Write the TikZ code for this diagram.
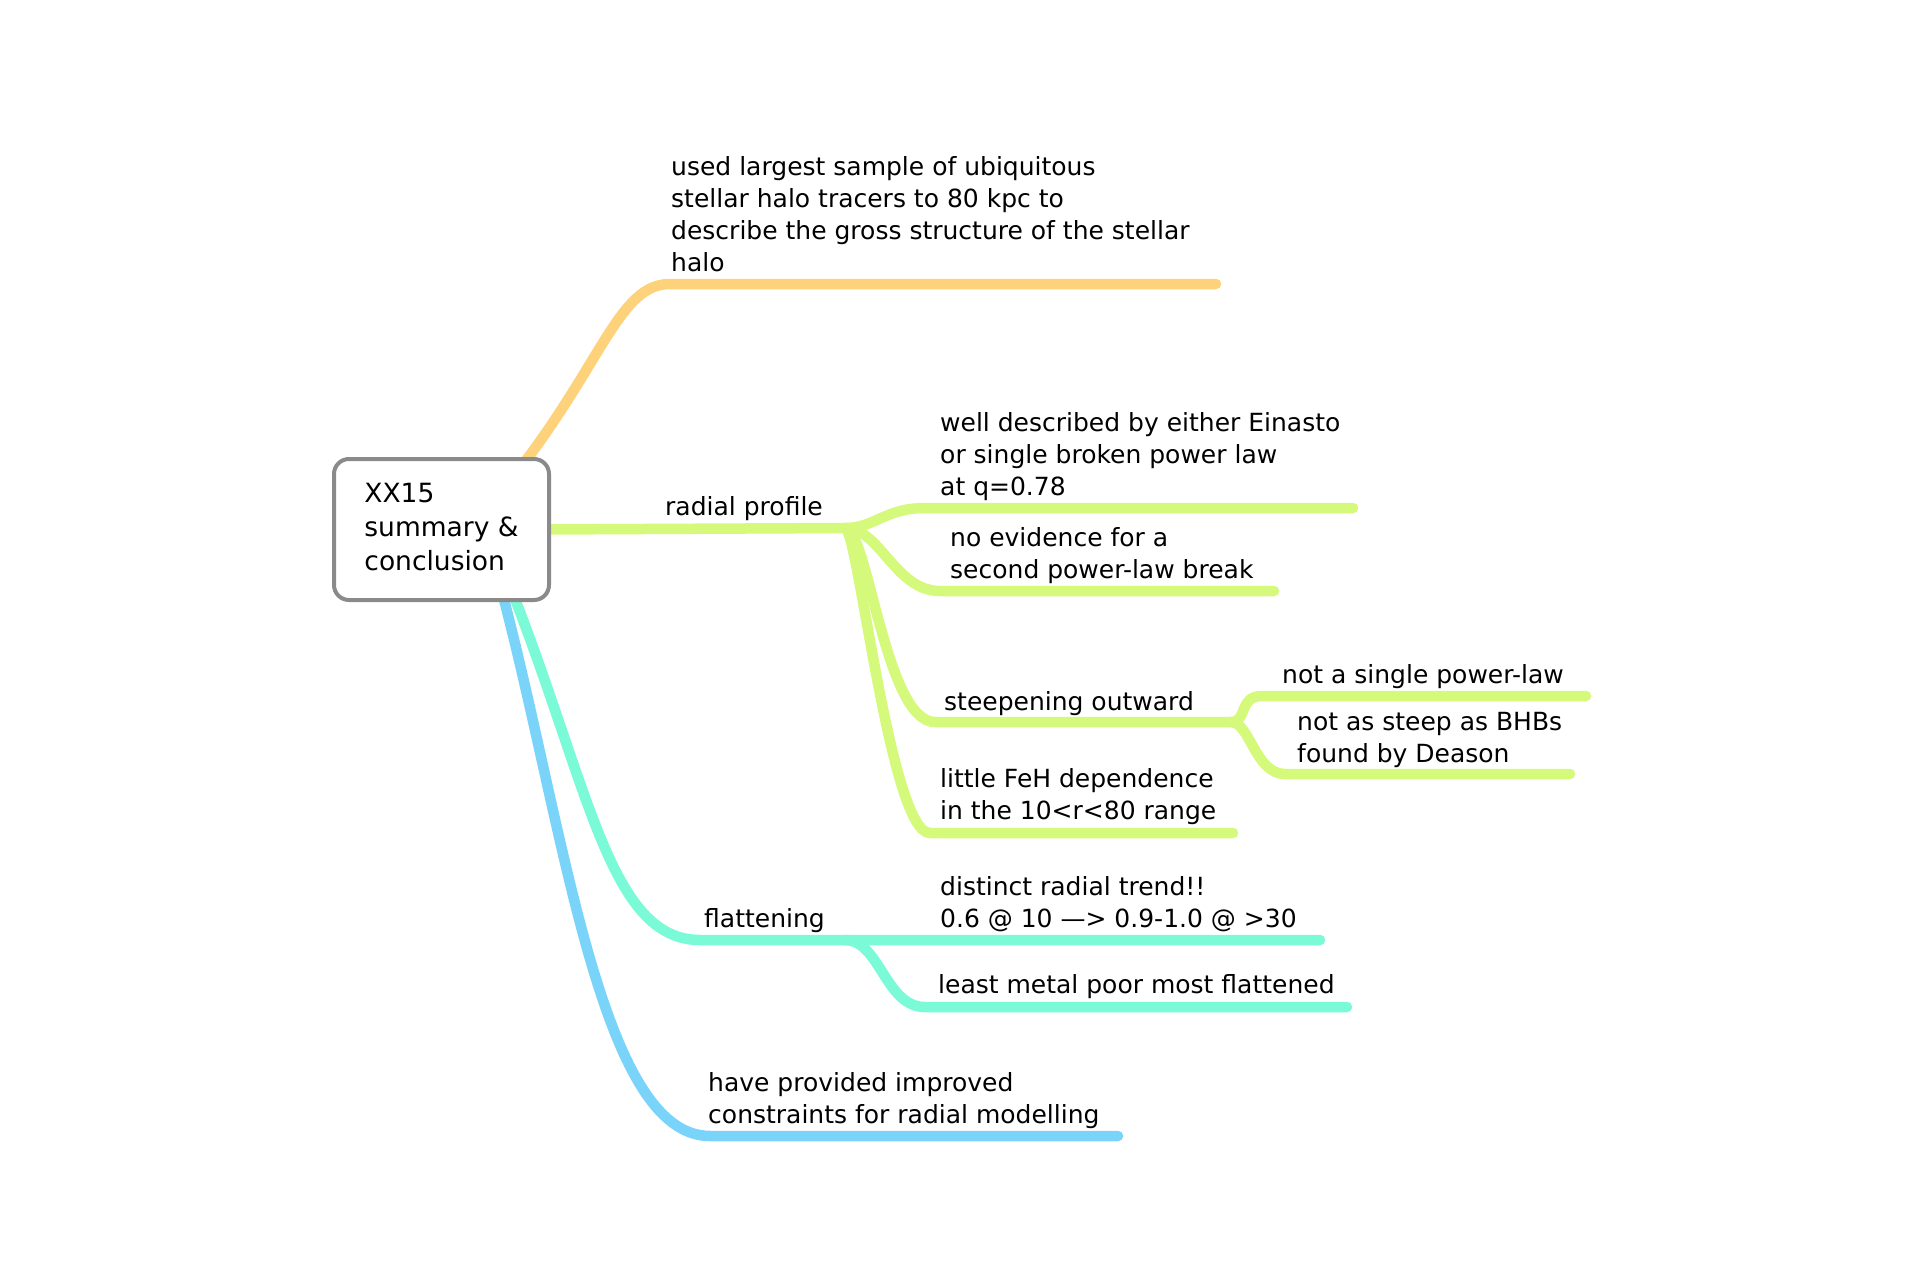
\documentclass[tikz,border=0pt]{standalone}
\usepackage{fontspec}
\setmainfont{DejaVu Sans}
\usetikzlibrary{backgrounds}
\definecolor{corange}{HTML}{FDD27A}
\definecolor{cgreen}{HTML}{D5F97A}
\definecolor{cteal}{HTML}{7AFAD6}
\definecolor{cblue}{HTML}{7AD4FA}
\definecolor{cgrey}{HTML}{8A8A8A}
\begin{document}
\begin{tikzpicture}[x=1pt,y=-1pt,
  br/.style={line width=10.5pt, line cap=round, line join=round},
  lbl/.style={anchor=south west, inner sep=0pt, align=left, font=\fontsize{25}{32}\selectfont},
  rootbox/.style={draw=cgrey, line width=4pt, rounded corners=15pt, fill=white,
    minimum width=215pt, minimum height=141pt, align=left,
    inner sep=0pt, font=\fontsize{26.5}{34}\selectfont}]
\useasboundingbox (0,0) rectangle (1920,1280);
\node[rootbox] (root) at (441.5,529.5) {\strut XX15\\\strut summary \&\\\strut conclusion};
% coordinates
\coordinate (oEnd) at (1216,284);
\coordinate (j1) at (845,528);
\coordinate (wEnd) at (1353,508);
\coordinate (nEnd) at (1274,591);
\coordinate (j2) at (1231,722);
\coordinate (fEnd) at (1233,833);
\coordinate (sEnd) at (1586,696);
\coordinate (aEnd) at (1570,774);
\coordinate (j3) at (845,940);
\coordinate (tEnd) at (1320,940);
\coordinate (lEnd) at (1347,1007);
\coordinate (bEnd) at (1118,1136);
% labels
\node[lbl] (tused) at (671,281.6) {\strut used largest sample of ubiquitous\\\strut stellar halo tracers to 80 kpc to\\\strut describe the gross structure of the stellar\\\strut halo};
\node[lbl] (tradial) at (665,525.6) {\strut radial profile};
\node[lbl] (twell) at (940,505.6) {\strut well described by either Einasto\\\strut or single broken power law\\\strut at q=0.78};
\node[lbl] (tnoev) at (950,588.6) {\strut no evidence for a\\\strut second power-law break};
\node[lbl] (tsteep) at (944,720.6) {\strut steepening outward};
\node[lbl] (tfeh) at (940,829.6) {\strut little FeH dependence\\\strut in the 10<r<80 range};
\node[lbl] (tsingle) at (1282,693.6) {\strut not a single power-law};
\node[lbl] (tsteepas) at (1297,772.6) {\strut not as steep as BHBs\\\strut found by Deason};
\node[lbl] (tflat) at (704,937.6) {\strut flattening};
\node[lbl] (tdist) at (940,937.6) {\strut distinct radial trend!!\\\strut 0.6 @ 10 —> 0.9-1.0 @ >30};
\node[lbl] (tleast) at (938,1003.6) {\strut least metal poor most flattened};
\node[lbl] (thave) at (708,1133.6) {\strut have provided improved\\\strut constraints for radial modelling};
\begin{scope}[on background layer]
% orange
\draw[br, corange] ([xshift=78pt,yshift=-12pt]root.north) .. controls (604,359) and (620,284) .. (670,284) -- (oEnd);
% green
\draw[br, cgreen] ([xshift=-10pt]root.east) -- (j1);
\draw[br, cgreen] (j1) .. controls (875,528) and (885,508) .. (925,508) -- (wEnd);
\draw[br, cgreen] (j1) .. controls (880,528) and (895,591) .. (940,591) -- (nEnd);
\draw[br, cgreen] (j1) .. controls (868,528) and (885,722) .. (935,722) -- (j2);
\draw[br, cgreen] (j1) .. controls (858,528) and (890,833) .. (930,833) -- (fEnd);
\draw[br, cgreen] (j2) .. controls (1248,722) and (1238,696) .. (1262,696) -- (sEnd);
\draw[br, cgreen] (j2) .. controls (1250,722) and (1255,774) .. (1285,774) -- (aEnd);
% teal
\draw[br, cteal] ([xshift=70pt,yshift=12pt]root.south) .. controls (590,790) and (610,940) .. (700,940) -- (j3) -- (tEnd);
\draw[br, cteal] (j3) .. controls (880,940) and (885,1007) .. (925,1007) -- (lEnd);
% blue
\draw[br, cblue] ([xshift=60pt,yshift=12pt]root.south) .. controls (565,830) and (600,1136) .. (710,1136) -- (bEnd);
\end{scope}
\end{tikzpicture}
\end{document}
